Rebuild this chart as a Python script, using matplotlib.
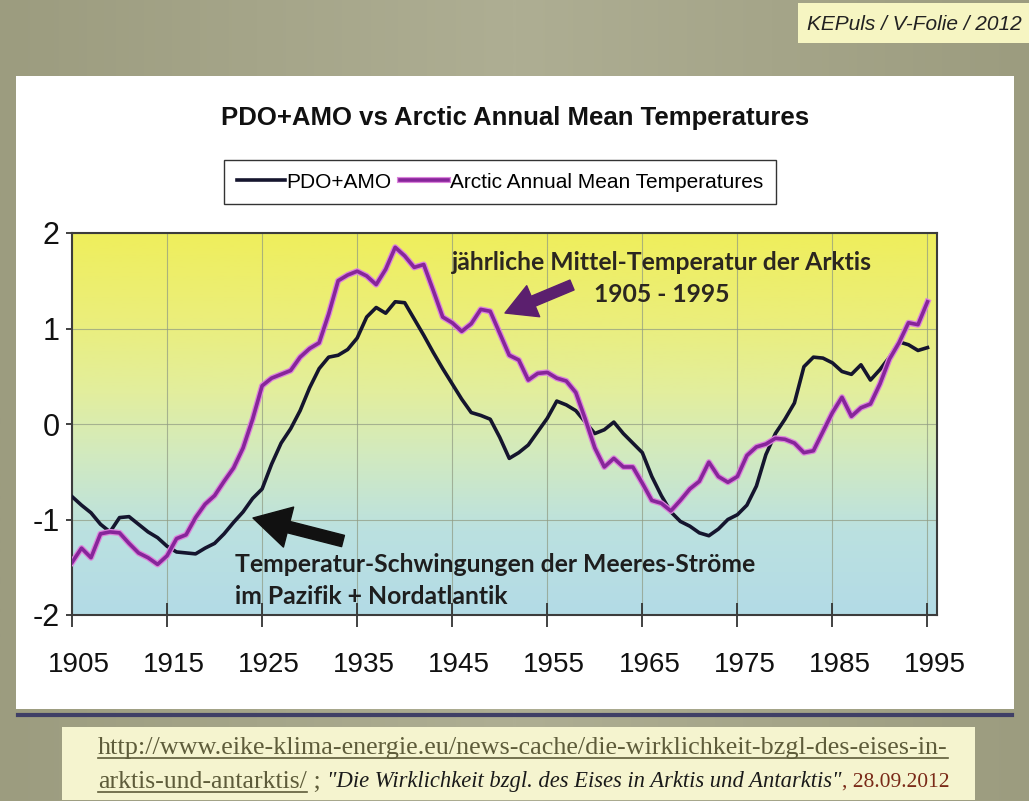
import matplotlib
matplotlib.use('Agg')
import matplotlib.pyplot as plt
import matplotlib.patheffects as pe
import numpy as np
from matplotlib import font_manager
from matplotlib.colors import LinearSegmentedColormap
from matplotlib.patches import Rectangle
from matplotlib.lines import Line2D
from matplotlib.transforms import ScaledTranslation, IdentityTransform

# values, one per year 1905..1995
years = list(range(1905, 1996))
pdo_amo = [-0.76, -0.85, -0.93, -1.05, -1.13, -0.98, -0.97, -1.05, -1.13, -1.19,
           -1.28, -1.34, -1.35, -1.36, -1.30, -1.25, -1.15, -1.03, -0.92, -0.78,
           -0.68, -0.42, -0.20, -0.05, 0.14, 0.38, 0.58, 0.70, 0.72, 0.78,
           0.90, 1.12, 1.22, 1.16, 1.28, 1.27, 1.10, 0.93, 0.75, 0.58,
           0.42, 0.26, 0.12, 0.09, 0.05, -0.14, -0.36, -0.30, -0.22, -0.08,
           0.06, 0.24, 0.20, 0.14, 0.02, -0.10, -0.06, 0.02, -0.10, -0.20,
           -0.30, -0.55, -0.75, -0.92, -1.02, -1.07, -1.14, -1.17, -1.10, -1.00,
           -0.95, -0.85, -0.65, -0.32, -0.10, 0.05, 0.22, 0.60, 0.70, 0.69,
           0.64, 0.55, 0.52, 0.62, 0.46, 0.57, 0.70, 0.86, 0.83, 0.77,
           0.80]
arctic = [-1.45, -1.30, -1.40, -1.15, -1.13, -1.14, -1.25, -1.35, -1.40, -1.47,
          -1.38, -1.20, -1.16, -0.98, -0.84, -0.75, -0.60, -0.46, -0.25, 0.05,
          0.40, 0.48, 0.52, 0.56, 0.70, 0.79, 0.85, 1.15, 1.50, 1.56,
          1.60, 1.55, 1.46, 1.62, 1.85, 1.76, 1.64, 1.67, 1.40, 1.12,
          1.06, 0.97, 1.05, 1.20, 1.18, 0.95, 0.72, 0.67, 0.46, 0.53,
          0.54, 0.48, 0.45, 0.33, 0.05, -0.25, -0.45, -0.36, -0.45, -0.45,
          -0.62, -0.80, -0.83, -0.91, -0.80, -0.68, -0.60, -0.40, -0.55, -0.61,
          -0.55, -0.33, -0.24, -0.21, -0.15, -0.16, -0.20, -0.30, -0.28, -0.08,
          0.12, 0.28, 0.08, 0.17, 0.21, 0.42, 0.68, 0.85, 1.06, 1.04,
          1.28]
xticks = list(range(1905, 1996, 10))
yticks = [-2, -1, 0, 1, 2]
ytick_labels = ['-2', '-1', '0', '1', '2']

W, H = 1029, 801
installed = {f.name for f in font_manager.fontManager.ttflist}
narrow = 'Liberation Sans Narrow' if 'Liberation Sans Narrow' in installed else 'Liberation Sans'
plt.rcParams['axes.unicode_minus'] = False

fig = plt.figure(figsize=(W / 100, H / 100), dpi=100)


def fx(x):
    return x / W


def fy(y):
    return 1 - y / H


def box(x0, y0, x1, y1, **kw):
    fig.patches.append(Rectangle((fx(x0), fy(y1)), (x1 - x0) / W, (y1 - y0) / H,
                                 transform=fig.transFigure, **kw))


# khaki slide background
bg = fig.add_axes([0, 0, 1, 1], zorder=-10)
g = 1 - np.abs(np.linspace(-1, 1, 400))
bg.imshow(g.reshape(1, -1), extent=[0, 1, 0, 1], aspect='auto',
          cmap=LinearSegmentedColormap.from_list('k', ['#9c9c7f', '#aeae93']))
bg.axis('off')

box(16, 76, 1014, 709, facecolor='white', edgecolor='none', zorder=1)
fig.add_artist(Line2D([fx(18), fx(1012)], [fy(715), fy(715)], color='#3f3f66', lw=3,
                      transform=fig.transFigure, zorder=2))
box(798, 3, 1029, 43, facecolor='#f6f5c2', edgecolor='none', zorder=1)
box(62, 727, 975, 800, facecolor='#f5f4cf', edgecolor='none', zorder=1)

fig.text(fx(1022), fy(24), 'KEPuls / V-Folie / 2012', ha='right', va='center',
         style='italic', family=narrow, fontsize=15, color='#222222', zorder=3)

# chart
ax = fig.add_axes([fx(72), fy(615), (937 - 72) / W, (615 - 233) / H], zorder=5)
cmap = LinearSegmentedColormap.from_list('bg', [
    (0.0, '#b3dbe6'), (0.22, '#bbe1e0'), (0.42, '#d2eabf'),
    (0.58, '#e2ee9e'), (0.78, '#ebee7a'), (1.0, '#efee5c')])
ax.imshow(np.linspace(0, 1, 256).reshape(-1, 1), extent=[1905, 1996, -2, 2],
          origin='lower', aspect='auto', cmap=cmap, zorder=0)

l1, = ax.plot(years, pdo_amo, color='#15152e', lw=2.6, zorder=3, label='PDO+AMO')
l2, = ax.plot(years, arctic, color='#87259a', lw=2.6, zorder=4,
              label='Arctic Annual Mean Temperatures',
              path_effects=[pe.withStroke(linewidth=4.4, foreground='#dc84dc')])

ax.set_xlim(1905, 1996)
ax.set_ylim(-2, 2)
ax.set_xticks(xticks)
ax.set_xticklabels([str(t) for t in xticks])
ax.set_yticks(yticks)
ax.set_yticklabels(ytick_labels)
ax.grid(True, color='#8f9a82', lw=0.8, alpha=0.7)
for s in ax.spines.values():
    s.set_color('#3c3c3c')
    s.set_linewidth(1.5)
ax.tick_params(axis='x', direction='inout', length=17, width=1.3, color='#333333',
               pad=18, labelsize=20)
ax.tick_params(axis='y', direction='out', length=4, width=1.3, color='#333333',
               pad=5, labelsize=22)
for lbl in ax.get_xticklabels() + ax.get_yticklabels():
    lbl.set_family(narrow)
    lbl.set_color('#111111')
for lbl in ax.get_xticklabels():
    lbl.set_transform(lbl.get_transform() + ScaledTranslation(0.07, 0, fig.dpi_scale_trans))

fig.text(fx(515), fy(118), 'PDO+AMO vs Arctic Annual Mean Temperatures', ha='center',
         va='center', fontsize=18.5, weight='bold', family=narrow, color='#111111', zorder=6)
fig.legend(handles=[l1, l2], loc='center', bbox_to_anchor=(fx(500), fy(182)), ncol=2,
           frameon=True, fancybox=False, edgecolor='#333333', facecolor='white',
           framealpha=1, prop=dict(family=narrow, size=15), handlelength=2.3,
           handletextpad=0.1, columnspacing=0.4, borderpad=0.6)

# annotations
fig.text(fx(662), fy(263), 'jährliche Mittel-Temperatur der Arktis', ha='center', va='center',
         family='Lato', weight='bold', fontsize=17.8, color='#2b2620', zorder=6)
fig.text(fx(662), fy(295), '1905 - 1995', ha='center', va='center',
         family='Lato', weight='bold', fontsize=17.8, color='#2b2620', zorder=6)
fig.text(fx(235), fy(565), 'Temperatur-Schwingungen der Meeres-Ströme', ha='left', va='center',
         family='Lato', weight='bold', fontsize=17.8, color='#1e1e1e', zorder=6)
fig.text(fx(235), fy(597), 'im Pazifik + Nordatlantik', ha='left', va='center',
         family='Lato', weight='bold', fontsize=17.8, color='#1e1e1e', zorder=6)

ax.annotate('', xy=(253, H - 518), xytext=(343, H - 541), xycoords='figure pixels',
            textcoords='figure pixels', annotation_clip=False,
            arrowprops=dict(arrowstyle='simple,head_length=1.2,head_width=1.35,tail_width=0.38',
                            mutation_scale=22, color='#111111', shrinkA=0, shrinkB=0))
ax.annotate('', xy=(505, H - 313), xytext=(572, H - 285), xycoords='figure pixels',
            textcoords='figure pixels', annotation_clip=False,
            arrowprops=dict(arrowstyle='simple,head_length=1.0,head_width=1.1,tail_width=0.35',
                            mutation_scale=22, color='#5b1f6e', shrinkA=0, shrinkB=0))

# source line with underlined link
renderer = fig.canvas.get_renderer()


def underline(t, color):
    bb = t.get_window_extent(renderer)
    fig.add_artist(Line2D([bb.x0, bb.x1], [bb.y0 + 1, bb.y0 + 1], color=color, lw=1.2,
                          transform=IdentityTransform(), zorder=6))


olive = '#5e5c3a'
t1 = fig.text(fx(98), fy(748), 'http://www.eike-klima-energie.eu/news-cache/die-wirklichkeit-bzgl-des-eises-in-',
              family='Liberation Serif', fontsize=18.8, color=olive, va='center', zorder=6)
underline(t1, olive)
pieces = [('arktis-und-antarktis/', olive, 'normal', 18.5, True),
          (' ; ', olive, 'normal', 18.5, False),
          ('"Die Wirklichkeit bzgl. des Eises in Arktis und Antarktis"', '#1a1a1a', 'italic', 16.3, False),
          (', 28.09.2012', '#7a2a18', 'normal', 15.5, False)]
x = 98
for txt, col, sty, size, ul in pieces:
    t = fig.text(fx(x), fy(782), txt, family='Liberation Serif', fontsize=size, color=col,
                 style=sty, va='center', zorder=6)
    bb = t.get_window_extent(renderer)
    if ul:
        underline(t, col)
    x += bb.width

fig.savefig('out.png', dpi=100)
